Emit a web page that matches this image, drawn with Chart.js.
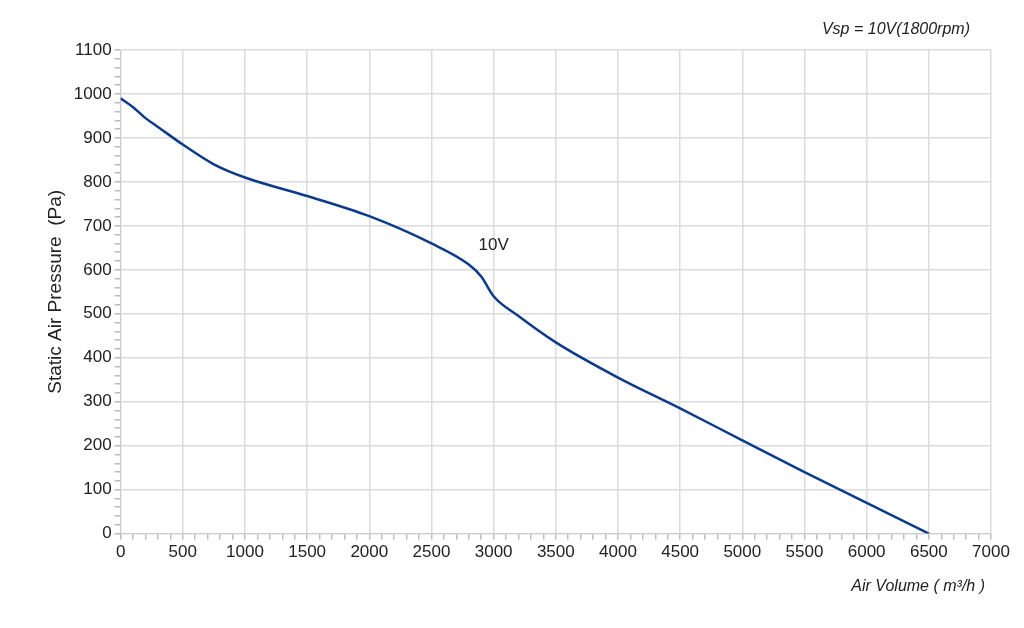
<!DOCTYPE html>
<html><head><meta charset="utf-8">
<script src="https://cdn.jsdelivr.net/npm/chart.js@4"></script>
<style>html,body{margin:0;background:#fff}#w{width:1024px;height:628px;position:relative}</style>
</head><body><div id="w"><canvas id="c"></canvas></div>
<script>
const airVolume = [0,100,200,300,500,750,1000,1500,2000,2500,2800,2900,3000,3200,3500,4000,4500,5000,5500,6000,6500];
const pressure  = [990,970,945,925,885,840,810,768,722,660,612,585,540,495,435,355,285,212,140,70,0];
const seriesLabel = "10V";
const labelPos = {x:3000, y:655};
const F = "Liberation Sans, Arial, sans-serif";
const extras = {id:'extras', afterDraw(ch){
  const c=ch.ctx, xs=ch.scales.x, ys=ch.scales.y;
  c.save(); c.fillStyle='#222'; c.font='17px '+F; c.textAlign='center'; c.textBaseline='middle';
  c.fillText(seriesLabel, xs.getPixelForValue(labelPos.x), ys.getPixelForValue(labelPos.y));
  c.font='italic 16px '+F; c.textAlign='right';
  c.fillText('Vsp = 10V(1800rpm)', 970, 30);
  c.fillText('Air Volume ( m³/h )', 985, 587);
  c.restore();
}};
new Chart(document.getElementById('c'), {
  type:'line',
  data:{datasets:[{data:airVolume.map((x,i)=>({x,y:pressure[i]})), borderColor:'#0d3b8c', borderWidth:2.5, pointRadius:0, tension:0.4, cubicInterpolationMode:'monotone', fill:false}]},
  options:{responsive:true, maintainAspectRatio:false, animation:false,
    layout:{padding:{left:40,right:33,top:50,bottom:62}},
    plugins:{legend:{display:false}, tooltip:{enabled:false}},
    scales:{
      x:{type:'linear', min:0, max:7000,
        ticks:{stepSize:100, autoSkip:false, maxRotation:0, color:'#222', font:{size:17,family:F}, callback:v=>v%500===0?v:''},
        grid:{color:ctx=>ctx.tick&&ctx.tick.value%500===0?'#dcdcdc':'rgba(0,0,0,0)', tickColor:'#bbb', tickLength:6, lineWidth:1.5},
        border:{color:'#ccc'}},
      y:{min:0, max:1100,
        ticks:{stepSize:20, autoSkip:false, color:'#222', font:{size:17,family:F}, callback:v=>v%100===0?v:''},
        grid:{color:ctx=>ctx.tick&&ctx.tick.value%100===0?'#dcdcdc':'rgba(0,0,0,0)', tickColor:'#bbb', tickLength:6, lineWidth:1.5},
        border:{color:'#ccc'},
        title:{display:true, text:'Static Air Pressure  (Pa)', color:'#222', font:{size:19,family:F}}}
    }},
  plugins:[extras]
});
</script></body></html>
